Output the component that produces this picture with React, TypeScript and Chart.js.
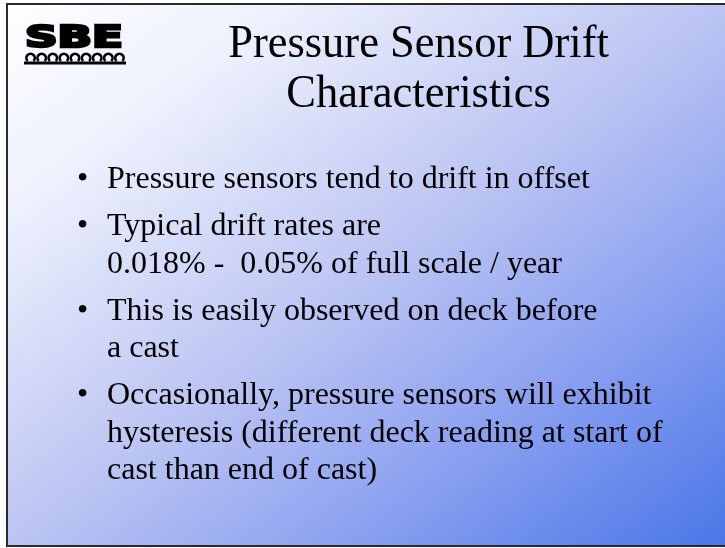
import React, { useEffect, useRef } from "react";
import { Chart, registerables } from "chart.js";

Chart.register(...registerables);

const titleLines: string[] = ["Pressure Sensor Drift", "Characteristics"];
const bulletItems: string[][] = [
  ["Pressure sensors tend to drift in offset"],
  ["Typical drift rates are", "0.018% -  0.05% of full scale / year"],
  ["This is easily observed on deck before", "a cast"],
  [
    "Occasionally, pressure sensors will exhibit",
    "hysteresis (different deck reading at start of",
    "cast than end of cast)",
  ],
];
const logoText = "SBE";
const waveCount = 9;

const W = 725;
const H = 548;

const slidePlugin = {
  id: "slide",
  beforeDraw(chart: any) {
    const ctx: CanvasRenderingContext2D = chart.ctx;
    ctx.save();
    const dx = 1 / W;
    const dy = 1 / H;
    const d2 = dx * dx + dy * dy;
    const g = ctx.createLinearGradient(0, 0, (2 * dx) / d2, (2 * dy) / d2);
    g.addColorStop(0, "#ffffff");
    g.addColorStop(0.2, "#eef1fd");
    g.addColorStop(0.5, "#bcc5f3");
    g.addColorStop(0.735, "#8aa0f0");
    g.addColorStop(1, "#4a76e8");
    ctx.fillStyle = "#ffffff";
    ctx.fillRect(0, 0, W, H);
    ctx.fillStyle = g;
    ctx.fillRect(7, 4, W - 7, H - 6);
    ctx.strokeStyle = "#2a2a2a";
    ctx.lineWidth = 2;
    ctx.beginPath();
    ctx.moveTo(W + 2, 4);
    ctx.lineTo(7, 4);
    ctx.lineTo(7, 546);
    ctx.lineTo(W + 2, 546);
    ctx.stroke();

    // logo
    ctx.fillStyle = "#000000";
    ctx.strokeStyle = "#000000";
    ctx.font = "bold 31px 'DejaVu Sans'";
    ctx.textBaseline = "alphabetic";
    ctx.textAlign = "left";
    const mw = ctx.measureText(logoText).width;
    ctx.save();
    ctx.translate(25, 47);
    ctx.scale(98 / mw, 1);
    ctx.lineWidth = 2.6;
    ctx.lineJoin = "miter";
    ctx.fillText(logoText, 0, 0);
    ctx.strokeText(logoText, 0, 0);
    ctx.restore();
    ctx.lineWidth = 2.6;
    const step = 100 / waveCount;
    for (let i = 0; i < waveCount; i++) {
      const cx = 25 + i * step + step / 2;
      ctx.beginPath();
      ctx.arc(cx, 58, 4.2, Math.PI * 0.75, Math.PI * 2.25);
      ctx.stroke();
    }
    ctx.fillRect(24, 61.5, 102, 3);

    // title
    ctx.font = "44.5px 'Liberation Serif'";
    ctx.textAlign = "center";
    ctx.save();
    ctx.translate(418.5, 57);
    ctx.scale(1, 1.06);
    ctx.fillText(titleLines[0], 0, 0);
    ctx.restore();
    ctx.save();
    ctx.translate(418.5, 107);
    ctx.scale(1, 1.06);
    ctx.fillText(titleLines[1], 0, 0);
    ctx.restore();

    // bullets
    ctx.font = "32px 'Liberation Serif'";
    ctx.textAlign = "left";
    let y = 188;
    bulletItems.forEach((item) => {
      ctx.fillText("\u2022", 77, y);
      item.forEach((line, j) => {
        if (j > 0) y += 37.5;
        ctx.fillText(line, 107, y);
      });
      y += 47;
    });
    ctx.restore();
  },
};

export default function App() {
  const ref = useRef<HTMLCanvasElement | null>(null);
  useEffect(() => {
    if (!ref.current) return;
    const chart = new Chart(ref.current, {
      type: "scatter",
      data: { datasets: [{ data: [] }] },
      options: {
        animation: false,
        responsive: false,
        events: [],
        plugins: { legend: { display: false }, tooltip: { enabled: false } },
        scales: { x: { display: false }, y: { display: false } },
      },
      plugins: [slidePlugin],
    });
    return () => chart.destroy();
  }, []);
  return (
    <div style={{ position: "fixed", left: 0, top: 0, width: W, height: H }}>
      <canvas ref={ref} width={W} height={H} style={{ display: "block" }} />
    </div>
  );
}
